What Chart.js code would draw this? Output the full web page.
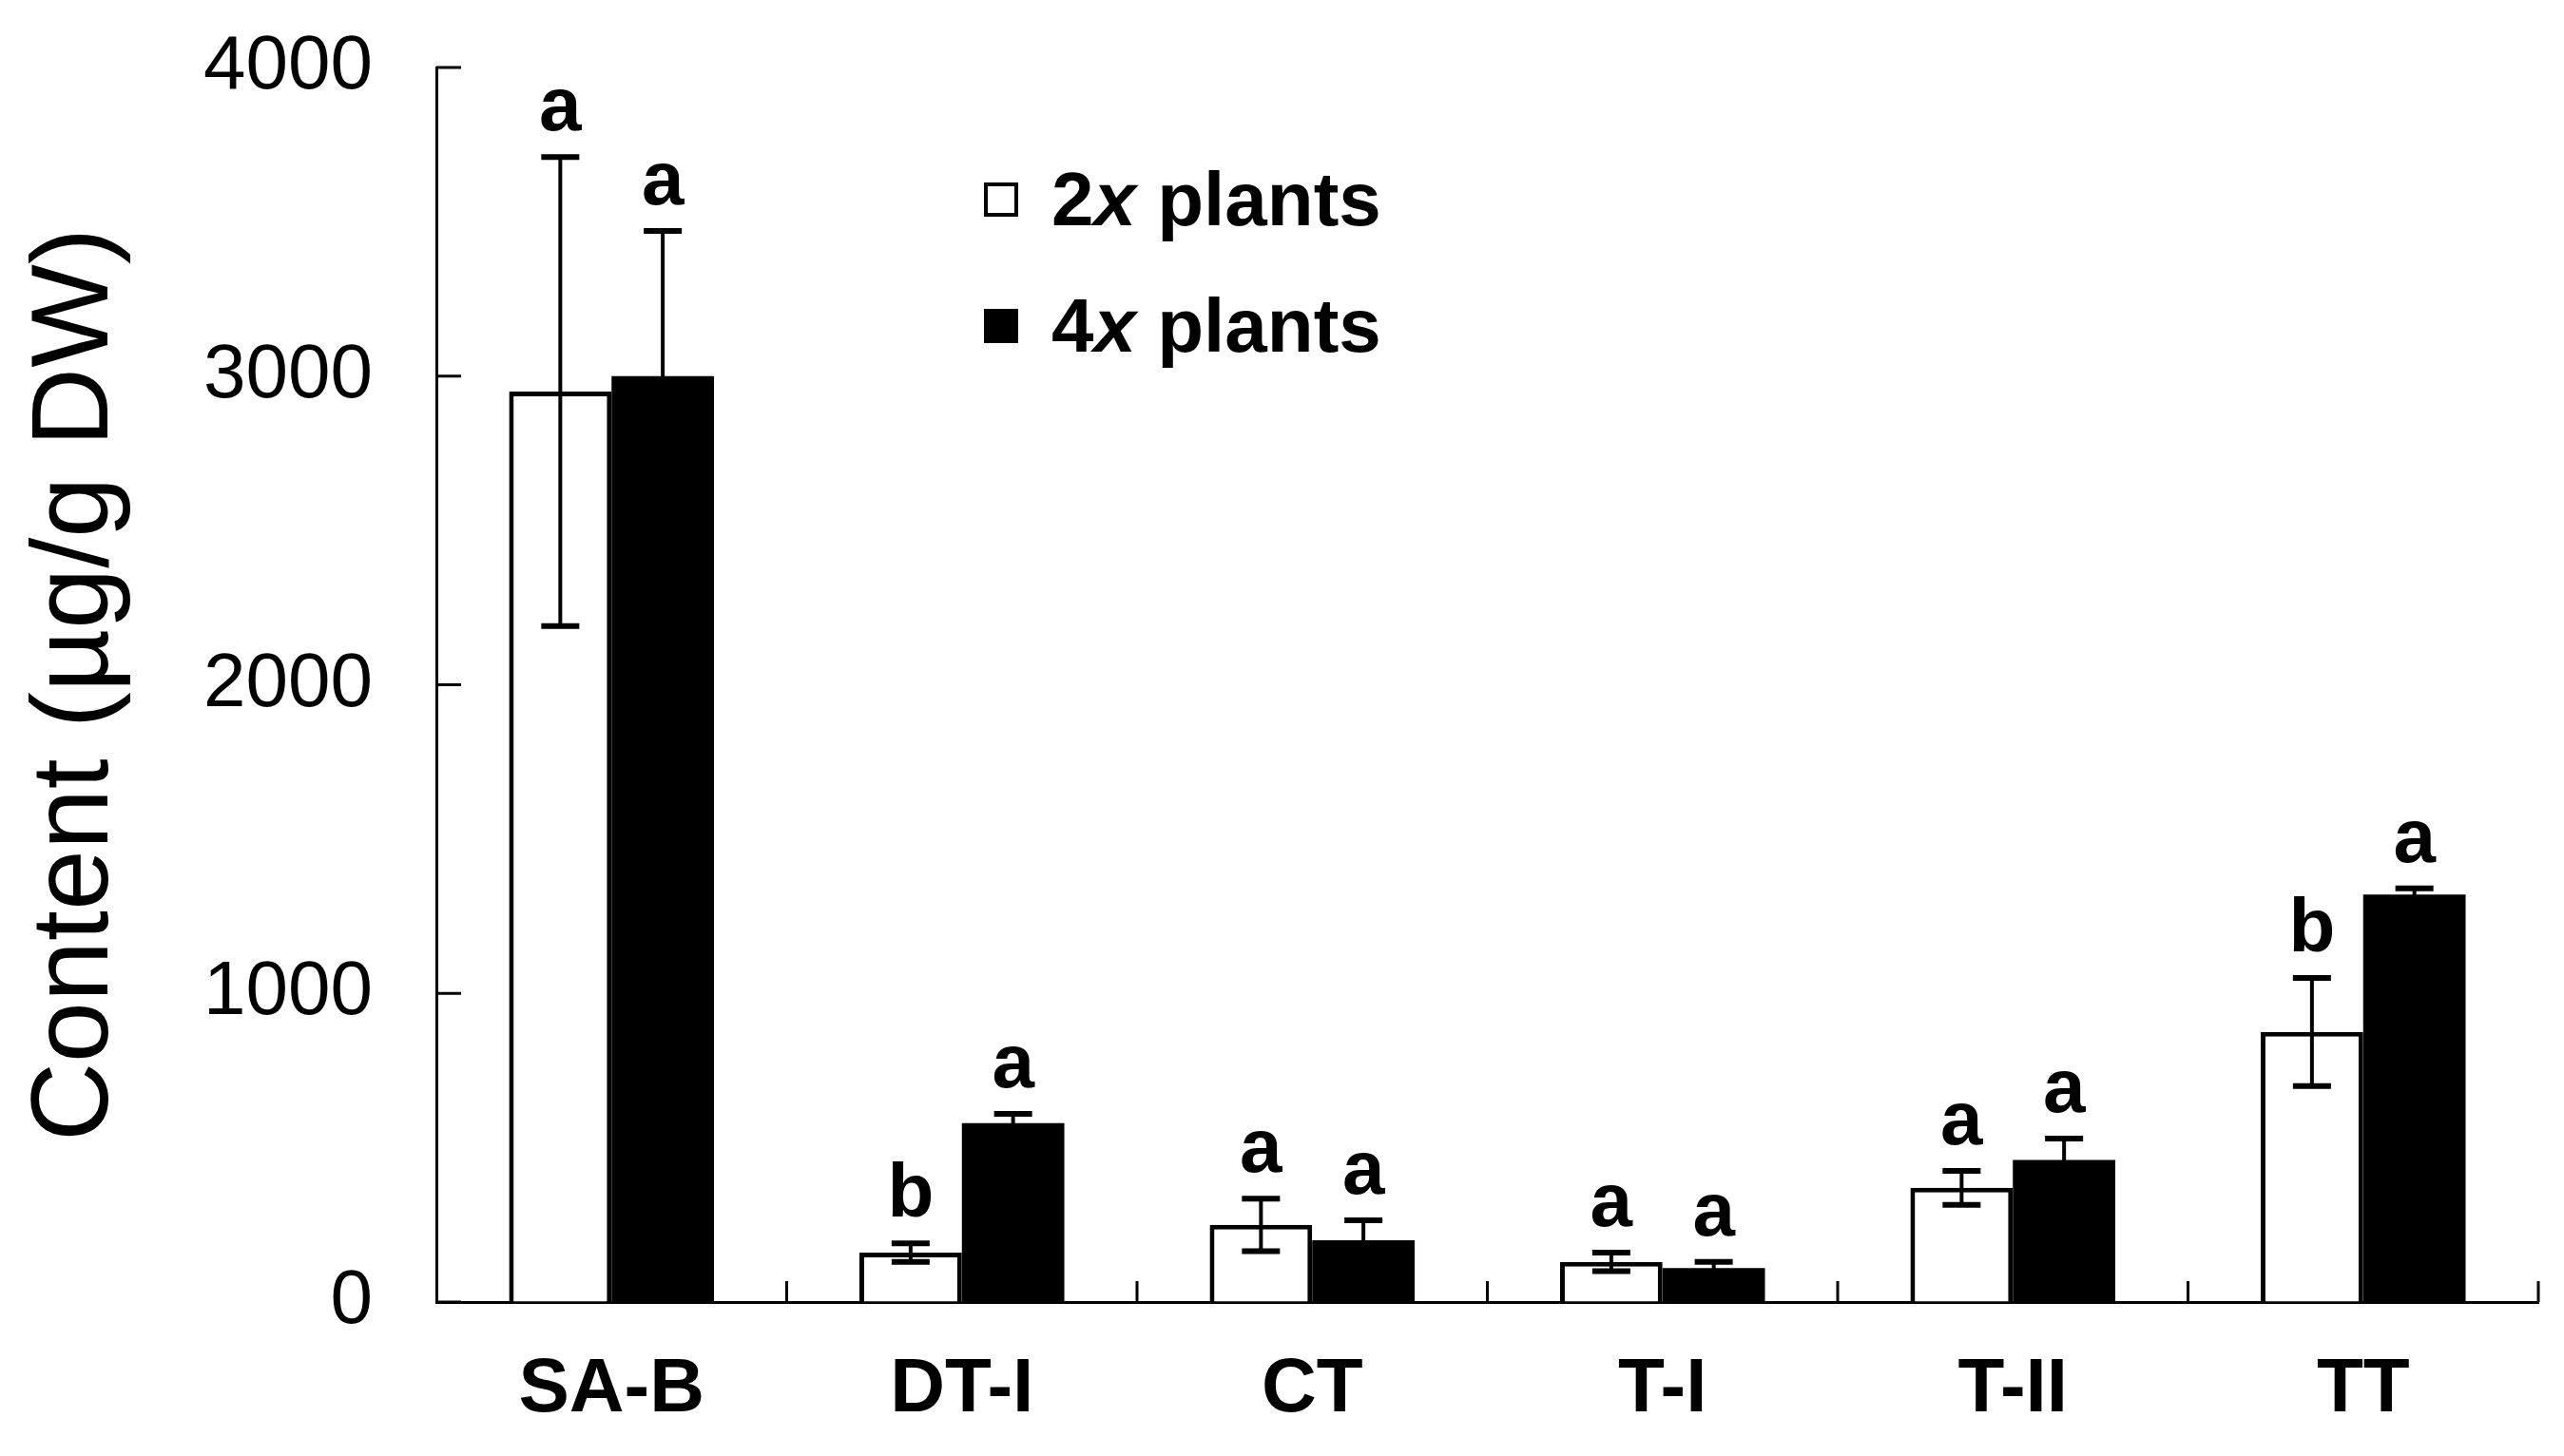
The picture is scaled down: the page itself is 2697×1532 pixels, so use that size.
<!DOCTYPE html>
<html>
<head>
<meta charset="utf-8">
<script src="https://cdn.jsdelivr.net/npm/chart.js@4.4.0/dist/chart.umd.min.js"></script>
<style>
  html, body { margin: 0; background: #fff; }
  #wrap { width: 2697px; height: 1532px; }
</style>
</head>
<body>
<div id="wrap"><canvas id="chart"></canvas></div>
<script>
// values
const categories = ['SA-B', 'DT-I', 'CT', 'T-I', 'T-II', 'TT'];
const plants2x = [2950, 160, 250, 130, 370, 875];
const plants2xErr = [760, 30, 85, 30, 55, 175];
const plants4x = [3000, 580, 200, 110, 460, 1320];
const plants4xErr = [470, 30, 65, 20, 70, 20];
const letters2x = ['a', 'b', 'a', 'a', 'a', 'b'];
const letters4x = ['a', 'a', 'a', 'a', 'a', 'a'];
const yTicks = [0, 1000, 2000, 3000, 4000];

const FONT = '"Liberation Sans", Arial, sans-serif';
const errors = [plants2xErr, plants4xErr];
const letters = [letters2x, letters4x];

// error bars + significance letters
const errorBars = {
  id: 'errorBars',
  afterDatasetsDraw(chart) {
    const ctx = chart.ctx;
    const y = chart.scales.y;
    ctx.save();
    ctx.strokeStyle = '#000';
    ctx.fillStyle = '#000';
    ctx.font = 'bold 80px ' + FONT;
    ctx.textAlign = 'center';
    ctx.textBaseline = 'alphabetic';
    chart.data.datasets.forEach((ds, i) => {
      chart.getDatasetMeta(i).data.forEach((bar, j) => {
        const v = ds.data[j], e = errors[i][j];
        const top = y.getPixelForValue(v + e);
        const bot = y.getPixelForValue(v - e);
        ctx.lineWidth = 4;
        ctx.beginPath();
        ctx.moveTo(bar.x, top); ctx.lineTo(bar.x, bot);
        ctx.stroke();
        ctx.lineWidth = 6;
        ctx.beginPath();
        ctx.moveTo(bar.x - 20, top); ctx.lineTo(bar.x + 20, top);
        ctx.moveTo(bar.x - 20, bot); ctx.lineTo(bar.x + 20, bot);
        ctx.stroke();
        ctx.fillText(letters[i][j], bar.x, top - 28);
      });
    });
    ctx.restore();
  }
};

// inward tick marks on both axes
const innerTicks = {
  id: 'innerTicks',
  afterDraw(chart) {
    const ctx = chart.ctx;
    const a = chart.chartArea;
    const y = chart.scales.y;
    ctx.save();
    ctx.strokeStyle = '#000';
    ctx.lineWidth = 3;
    ctx.beginPath();
    yTicks.forEach(v => {
      const py = y.getPixelForValue(v);
      ctx.moveTo(a.left, py); ctx.lineTo(a.left + 26, py);
    });
    const w = (a.right - a.left) / categories.length;
    for (let k = 1; k <= categories.length; k++) {
      const px = a.left + k * w;
      ctx.moveTo(px, a.bottom); ctx.lineTo(px, a.bottom - 22);
    }
    ctx.stroke();
    ctx.restore();
  }
};

// legend with italic "x"
const legendBox = {
  id: 'legendBox',
  afterDraw(chart) {
    const ctx = chart.ctx;
    ctx.save();
    const rows = [
      { y: 237, ploidy: '2', fill: '#fff' },
      { y: 370, ploidy: '4', fill: '#000' }
    ];
    rows.forEach(r => {
      ctx.fillStyle = r.fill;
      ctx.fillRect(1035, r.y - 45, 36, 36);
      ctx.strokeStyle = '#000';
      ctx.lineWidth = 4;
      ctx.strokeRect(1037, r.y - 43, 32, 32);
      ctx.fillStyle = '#000';
      ctx.textBaseline = 'alphabetic';
      ctx.textAlign = 'left';
      let x = 1106;
      ctx.font = 'bold 80px ' + FONT;
      ctx.fillText(r.ploidy, x, r.y);
      x += ctx.measureText(r.ploidy).width;
      ctx.font = 'italic bold 80px ' + FONT;
      ctx.fillText('x', x, r.y);
      x += ctx.measureText('x').width;
      ctx.font = 'bold 80px ' + FONT;
      ctx.fillText(' plants', x, r.y);
    });
    ctx.restore();
  }
};

new Chart(document.getElementById('chart'), {
  type: 'bar',
  data: {
    labels: categories,
    datasets: [
      { label: '2x plants', data: plants2x, backgroundColor: '#fff', borderColor: '#000', borderWidth: 5 },
      { label: '4x plants', data: plants4x, backgroundColor: '#000', borderColor: '#000', borderWidth: 0 }
    ]
  },
  options: {
    responsive: true,
    maintainAspectRatio: false,
    devicePixelRatio: 1,
    animation: false,
    categoryPercentage: 0.585,
    barPercentage: 1,
    layout: { padding: { top: 71, right: 27, left: 0, bottom: 0 } },
    plugins: { legend: { display: false }, tooltip: { enabled: false } },
    scales: {
      x: {
        grid: { display: false, drawTicks: false },
        border: { display: true, color: '#000', width: 3 },
        ticks: { color: '#000', padding: 45, font: { family: FONT, size: 80, weight: 'bold' } },
        afterFit(scale) { scale.height = 162; }
      },
      y: {
        min: 0, max: 4000,
        afterBuildTicks(scale) { scale.ticks = yTicks.map(v => ({ value: v })); },
        // invisible tick marks give the label gap without padding the top
        grid: { display: true, drawOnChartArea: false, drawTicks: true, tickLength: 67, color: 'rgba(0,0,0,0)' },
        border: { display: true, color: '#000', width: 3 },
        ticks: {
          color: '#000', padding: 0, font: { family: FONT, size: 80 },
          callback: v => String(v)
        },
        title: {
          display: true,
          text: 'Content (µg/g DW)',
          color: '#000',
          font: { family: FONT, size: 115, lineHeight: 1.2 },
          padding: { top: 12, bottom: 0 }
        },
        afterFit(scale) { scale.width = 459; }
      }
    }
  },
  plugins: [errorBars, innerTicks, legendBox]
});
</script>
</body>
</html>
